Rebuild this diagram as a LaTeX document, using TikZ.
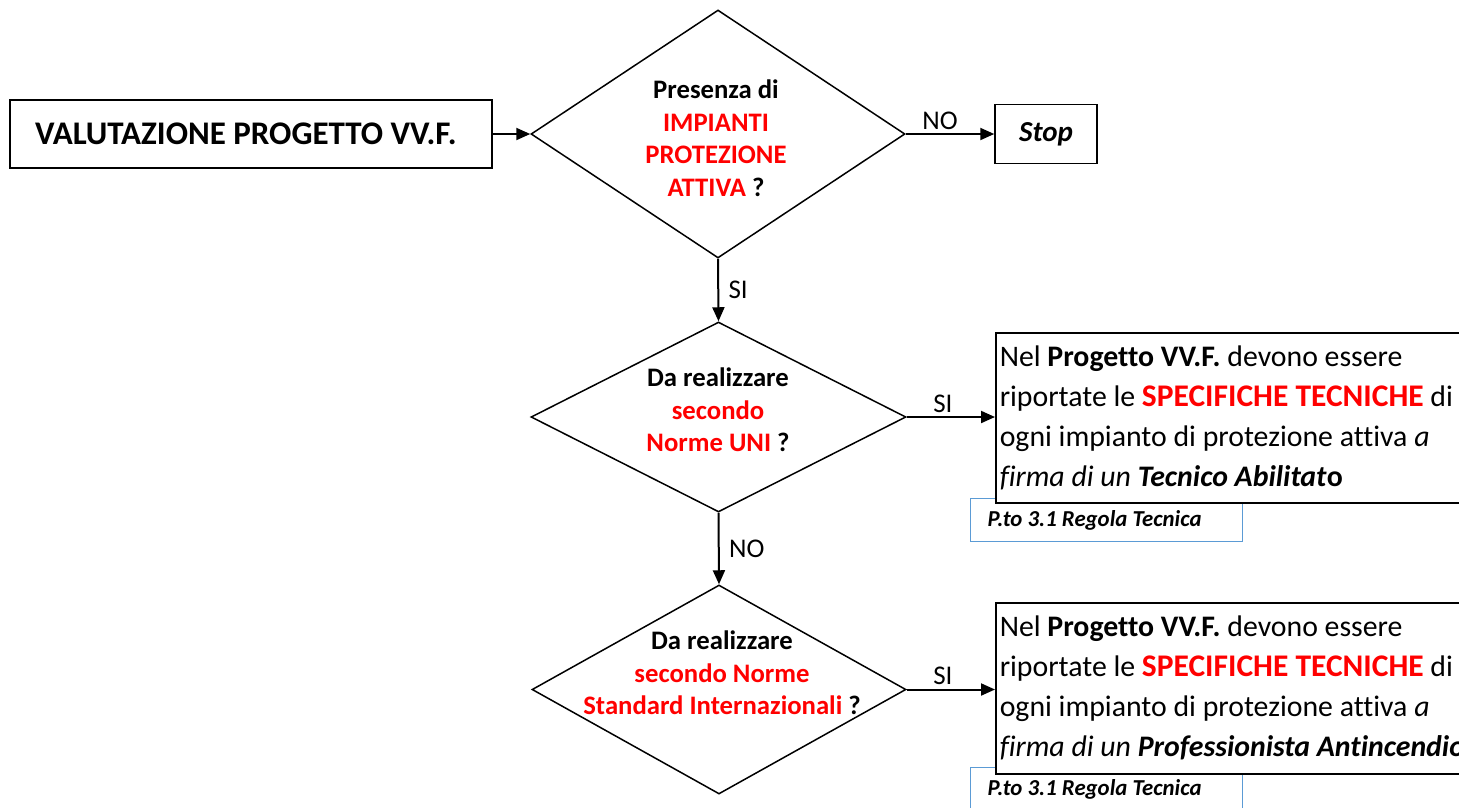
\documentclass[tikz,border=0pt]{standalone}
\usepackage{fontspec}
\setmainfont{Carlito}[Ligatures=NoCommon]
\usetikzlibrary{shapes.geometric,arrows.meta}
\definecolor{myred}{RGB}{255,0,0}
\definecolor{myblue}{RGB}{91,155,213}
\newcommand{\rd}[1]{\textcolor{myred}{#1}}
\frenchspacing
\begin{document}
\begin{tikzpicture}[x=1pt,y=-1pt,
  dec/.style={diamond,draw,line width=1.5pt,inner sep=0pt},
  dtext/.style={align=flush center,inner sep=0pt,font=\fontsize{26.7}{32.5}\selectfont\bfseries},
  flow/.style={line width=2pt,-{Triangle[length=14pt,width=12pt]}},
  lbl/.style={font=\fontsize{27}{30}\selectfont},
  plainbox/.style={draw,line width=1.5pt,fill=white,inner sep=0pt},
  infobox/.style={draw,line width=1.5pt,fill=white,minimum height=170pt,text width=470pt,inner xsep=4pt,inner ysep=0pt,align=flush left,font=\fontsize{29.8}{40}\selectfont},
  refbox/.style={draw=myblue,line width=1pt,fill=white,minimum height=43pt,text width=238pt,inner xsep=17pt,inner ysep=0pt,align=flush left,font=\fontsize{22.8}{24}\selectfont\bfseries\itshape}
]
\useasboundingbox (0,0) rectangle (1459,807);
\clip (0,0) rectangle (1459,807);

\node[plainbox,minimum width=482pt,minimum height=68pt,text width=432pt,inner xsep=25pt,align=flush left,font=\fontsize{33}{36}\selectfont\bfseries] (start) at (251,134) {VALUTAZIONE PROGETTO VV.F.};

\node[dec,minimum width=374pt,minimum height=248pt] (d1) at (718,134) {};
\node[dtext] (t1) at (716,138) {Presenza di\\ \rd{IMPIANTI}\\ \rd{PROTEZIONE}\\ \rd{ATTIVA} ?};

\node[plainbox,minimum width=102pt,minimum height=59pt,font=\fontsize{29}{32}\selectfont\bfseries\itshape] (stop) at (1046,134) {Stop};

\node[dec,minimum width=375pt,minimum height=190pt] (d2) at (718.5,417) {};
\node[dtext] (t2) at (718,410) {Da realizzare\\ \rd{secondo}\\ \rd{Norme UNI} ?};

\node[dec,minimum width=374pt,minimum height=209pt] (d3) at (719,689.5) {};
\node[dtext] (t3) at (722,673) {Da realizzare\\ \rd{secondo Norme}\\ \rd{Standard Internazionali} ?};

\node[refbox,anchor=north west] (r2) at (970,498) {P.to 3.1 Regola Tecnica};
\node[infobox,anchor=north west] (b2) at (995,332)
  {Nel \textbf{Progetto VV.F.} devono essere\\
   riportate le {\bfseries\color{myred}\fontsize{31.5}{40}\selectfont SPECIFICHE TECNICHE} di\\
   ogni impianto di protezione attiva \textit{a}\\
   \textit{firma di un \textbf{Tecnico Abilitat}}\textbf{o}};

\node[refbox,anchor=north west] (r3) at (970,767) {P.to 3.1 Regola Tecnica};
\node[infobox,anchor=north west,minimum height=171pt] (b3) at (995,602)
  {Nel \textbf{Progetto VV.F.} devono essere\\
   riportate le {\bfseries\color{myred}\fontsize{31.5}{40}\selectfont SPECIFICHE TECNICHE} di\\
   ogni impianto di protezione attiva \textit{a}\\
   \textit{firma di un \textbf{Professionista Antincendio}}};

\draw[flow] (start.east) -- (d1.west);
\draw[flow] (d1.east) -- node[lbl,above=0pt,xshift=-10pt]{NO} (stop.west);
\draw[flow] (d1.south) -- node[lbl,right=6pt]{SI} (d2.north);
\draw[flow] (d2.east) -- node[lbl,above=0pt,xshift=-8pt]{SI} (d2.east -| b2.west);
\draw[flow] (d2.south) -- node[lbl,right=6pt]{NO} (d3.north);
\draw[flow] (d3.east) -- node[lbl,above=0pt,xshift=-8pt]{SI} (d3.east -| b3.west);
\end{tikzpicture}
\end{document}
